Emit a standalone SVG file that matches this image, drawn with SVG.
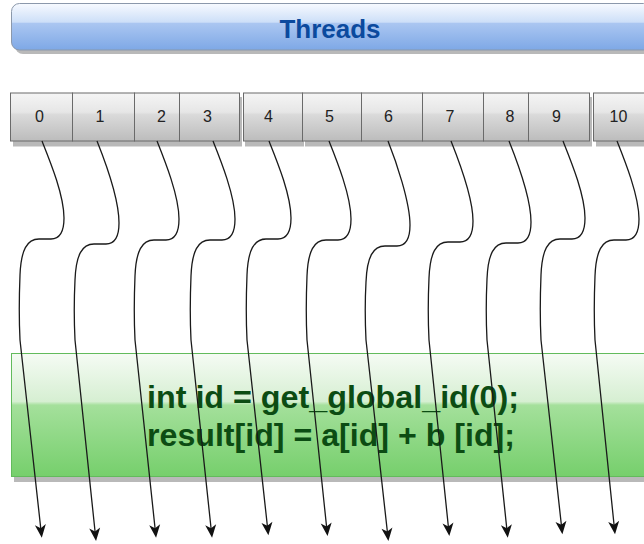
<svg xmlns="http://www.w3.org/2000/svg" width="644" height="544" viewBox="0 0 644 544">
<defs>
<linearGradient id="gBlue" x1="0" y1="0" x2="0" y2="1">
<stop offset="0" stop-color="#f7faff"/>
<stop offset="0.4" stop-color="#cddff8"/>
<stop offset="0.43" stop-color="#aac6f1"/>
<stop offset="1" stop-color="#7ea8e6"/>
</linearGradient>
<linearGradient id="gGrey" x1="0" y1="0" x2="0" y2="1">
<stop offset="0" stop-color="#f5f5f5"/>
<stop offset="0.4" stop-color="#e6e6e6"/>
<stop offset="0.45" stop-color="#dadada"/>
<stop offset="1" stop-color="#bcbcbc"/>
</linearGradient>
<linearGradient id="gGreen" x1="0" y1="0" x2="0" y2="1">
<stop offset="0" stop-color="#f5fbf4"/>
<stop offset="0.39" stop-color="#d6efd2"/>
<stop offset="0.42" stop-color="#a4e09b"/>
<stop offset="1" stop-color="#76cf6c"/>
</linearGradient>
<marker id="ah" markerUnits="userSpaceOnUse" markerWidth="20" markerHeight="20" orient="auto" overflow="visible" refX="0" refY="0">
<path d="M9,0 L-4,-5.5 L-0.5,0 L-4,5.5 Z" fill="#111"/>
</marker>
<style>
.shadow{fill:#b9b9b9}
.cell{fill:url(#gGrey);stroke:#6a6a6a;stroke-width:1}
.num{font-family:"Liberation Sans",Arial,sans-serif;font-size:16px;fill:#222;text-anchor:middle}
.conn{fill:none;stroke:#1a1a1a;stroke-width:1.3;marker-end:url(#ah)}
</style>
</defs>
<g id="threads-bar">
<rect class="shadow" x="15" y="8" width="640" height="46" rx="8"/>
<rect x="11.5" y="3.5" width="640" height="46.5" rx="8" fill="url(#gBlue)" stroke="#8b98ab" stroke-width="1"/>
<text x="330" y="38" font-family="'Liberation Sans',Arial,sans-serif" font-size="26" font-weight="bold" fill="#0b4a9e" text-anchor="middle">Threads</text>
</g>
<g id="t0"><rect class="shadow" x="13" y="97" width="62" height="49.5"/><rect class="cell" x="10.5" y="93" width="62" height="48"/><text class="num" x="39.5" y="121.5">0</text></g>
<g id="t1"><rect class="shadow" x="75" y="97" width="62" height="49.5"/><rect class="cell" x="72.5" y="93" width="62" height="48"/><text class="num" x="100" y="121.5">1</text></g>
<g id="t2"><rect class="shadow" x="137" y="97" width="45" height="49.5"/><rect class="cell" x="134.5" y="93" width="45" height="48"/><text class="num" x="161.5" y="121.5">2</text></g>
<g id="t3"><rect class="shadow" x="182" y="97" width="60" height="49.5"/><rect class="cell" x="179.5" y="93" width="60" height="48"/><text class="num" x="207.5" y="121.5">3</text></g>
<g id="t4"><rect class="shadow" x="245" y="97" width="59" height="49.5"/><rect class="cell" x="243.5" y="93" width="59" height="48"/><text class="num" x="268.5" y="121.5">4</text></g>
<g id="t5"><rect class="shadow" x="305" y="97" width="59" height="49.5"/><rect class="cell" x="302.5" y="93" width="59" height="48"/><text class="num" x="329.5" y="121.5">5</text></g>
<g id="t6"><rect class="shadow" x="364" y="97" width="61" height="49.5"/><rect class="cell" x="361.5" y="93" width="61" height="48"/><text class="num" x="388.5" y="121.5">6</text></g>
<g id="t7"><rect class="shadow" x="425" y="97" width="61" height="49.5"/><rect class="cell" x="422.5" y="93" width="61" height="48"/><text class="num" x="450" y="121.5">7</text></g>
<g id="t8"><rect class="shadow" x="486" y="97" width="45" height="49.5"/><rect class="cell" x="483.5" y="93" width="45" height="48"/><text class="num" x="510" y="121.5">8</text></g>
<g id="t9"><rect class="shadow" x="531" y="97" width="61" height="49.5"/><rect class="cell" x="528.5" y="93" width="61" height="48"/><text class="num" x="556.5" y="121.5">9</text></g>
<g id="t10"><rect class="shadow" x="596" y="97" width="60" height="49.5"/><rect class="cell" x="593.5" y="93" width="60" height="48"/><text class="num" x="618.5" y="121.5">10</text></g>
<g id="kernel">
<rect class="shadow" x="14" y="358" width="640" height="124"/>
<rect x="11.5" y="353.5" width="640" height="123" fill="url(#gGreen)" stroke="#62bb5c" stroke-width="1"/>
<g font-family="'Liberation Sans',Arial,sans-serif" font-size="32" font-weight="bold" fill="#0c4c13">
<text x="147" y="408" textLength="372" lengthAdjust="spacingAndGlyphs">int id = get_global_id(0);</text>
<text x="147" y="445.5" textLength="368" lengthAdjust="spacingAndGlyphs">result[id] = a[id] + b [id];</text>
</g>
</g>
<g id="connectors">
<path class="conn" d="M42,141 C50,161 64,195 64,218 C64,233 59,239 51,239 L39,239 C27,239 21,250 20,275 C19,300 19,320 20,340 L40.8,528.7"/>
<path class="conn" d="M97,141 C105,161 119,200 119,223 C119,238 114,244 106,244 L94,244 C82,244 76,255 75,280 C74,300 74,320 75,340 L95.1,532"/>
<path class="conn" d="M157,141 C165,161 179,196 179,219 C179,234 174,240 166,240 L154,240 C142,240 136,251 135,276 C134,300 134,320 135,340 L155.1,528.7"/>
<path class="conn" d="M213,141 C221,161 235,196 235,219 C235,234 230,240 222,240 L210,240 C198,240 192,251 191,276 C190,300 190,320 191,340 L211.1,528.7"/>
<path class="conn" d="M269,141 C277,161 291,195 291,218 C291,233 286,239 278,239 L266,239 C254,239 248,250 247,275 C246,300 246,320 247,340 L267.4,526.3"/>
<path class="conn" d="M329,141 C337,161 351,196 351,219 C351,234 346,240 338,240 L326,240 C314,240 308,251 307,276 C306,300 306,320 307,340 L326.6,527"/>
<path class="conn" d="M388,141 C396,161 410,202 410,225 C410,240 405,246 397,246 L385,246 C373,246 367,257 366,282 C365,300 365,320 366,340 L387.4,532"/>
<path class="conn" d="M451,141 C459,161 473,198 473,221 C473,236 468,242 460,242 L448,242 C436,242 430,253 429,278 C428,300 428,320 429,340 L448.4,527"/>
<path class="conn" d="M509,141 C517,161 531,199 531,222 C531,237 526,243 518,243 L506,243 C494,243 488,254 487,279 C486,300 486,320 487,340 L506.8,528.7"/>
<path class="conn" d="M563,141 C571,161 585,195 585,218 C585,233 580,239 572,239 L560,239 C548,239 542,250 541,275 C540,300 540,320 541,340 L561.4,525.3"/>
<path class="conn" d="M617,141 C625,161 639,196 639,219 C639,234 634,240 626,240 L614,240 C602,240 596,251 595,276 C594,300 594,320 595,340 L614.1,525.3"/>
</g>
</svg>
